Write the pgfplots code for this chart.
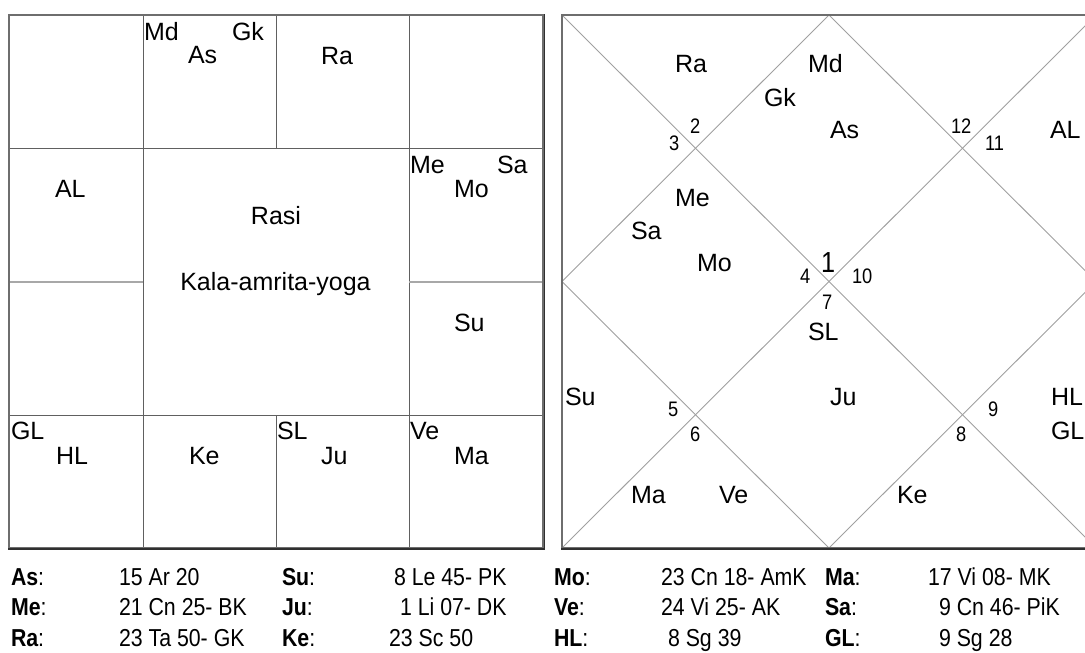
\documentclass[border=0pt]{standalone}
\usepackage{pgfplots}
\pgfplotsset{compat=1.18}
\usepackage{fontspec}
\setmainfont{Liberation Sans}
\newfontfamily\narrowfont[FakeStretch=0.87]{Liberation Sans}
\definecolor{frame}{HTML}{6E6E6E}
\definecolor{frameDark}{HTML}{303030}
\definecolor{grid}{HTML}{606060}
\definecolor{gridLight}{HTML}{A8A8A8}
\definecolor{diag}{HTML}{A0A0A0}
\tikzset{
  pl/.style={anchor=base west,inner sep=0pt,outer sep=0pt,font=\fontsize{25}{30}\selectfont},
  plc/.style={anchor=base,inner sep=0pt,outer sep=0pt,font=\fontsize{25}{30}\selectfont},
  num/.style={anchor=base west,inner sep=0pt,outer sep=0pt,font=\narrowfont\fontsize{21}{25}\selectfont},
  big/.style={anchor=base west,inner sep=0pt,outer sep=0pt,font=\narrowfont\fontsize{29}{33}\selectfont},
  tb/.style={anchor=base west,inner sep=0pt,outer sep=0pt,font=\narrowfont\fontsize{24.5}{29}\selectfont},
}
\begin{document}
\begin{tikzpicture}
\begin{axis}[
  width=1085pt,height=653pt,scale only axis,
  xmin=0,xmax=1085,ymin=0,ymax=653,y dir=reverse,
  axis lines=none,ticks=none,clip=true,
  axis background/.style={fill=white},
]
% background
\addplot[draw=none,fill=white] coordinates {(0,0) (1085,0) (1085,653) (0,653)} -- cycle;

% ---------- Left (South Indian) chart ----------
\addplot[draw=grid,line width=1pt] coordinates {(143,15) (143,548)};
\addplot[draw=grid,line width=1pt] coordinates {(409,15) (409,548)};
\addplot[draw=grid,line width=1pt] coordinates {(276,15) (276,148.5)};
\addplot[draw=grid,line width=1pt] coordinates {(276,415.5) (276,548)};
\addplot[draw=grid,line width=1pt] coordinates {(9,148.5) (543,148.5)};
\addplot[draw=grid,line width=1pt] coordinates {(9,415.5) (543,415.5)};
\addplot[draw=gridLight,line width=1.6pt] coordinates {(9,282) (143,282)};
\addplot[draw=gridLight,line width=1.6pt] coordinates {(409,282) (543,282)};
\addplot[draw=frame,line width=2.5pt] coordinates {(9,15) (543,15) (543,548) (9,548)} -- cycle;
\addplot[draw=frameDark,line width=1.2pt] coordinates {(8,549) (544.5,549)};
\addplot[draw=frameDark,line width=1pt] coordinates {(544.3,14) (544.3,549)};

% ---------- Right (North Indian) chart ----------
\addplot[draw=diag,line width=0.9pt] coordinates {(829,15) (1096,281.5) (829,548) (562,281.5)} -- cycle;
\addplot[draw=diag,line width=0.9pt] coordinates {(562,15) (1096,548)};
\addplot[draw=diag,line width=0.9pt] coordinates {(1096,15) (562,548)};
\addplot[draw=frame,line width=2.5pt] coordinates {(562,15) (1096,15) (1096,548) (562,548)} -- cycle;
\addplot[draw=frameDark,line width=1.2pt] coordinates {(561,549) (1097,549)};

% ---------- Left chart labels ----------
\node[pl] at (axis cs:144,40) {Md};
\node[pl] at (axis cs:232,40) {Gk};
\node[pl] at (axis cs:188,63.5) {As};
\node[pl] at (axis cs:321,64) {Ra};
\node[pl] at (axis cs:55,197) {AL};
\node[pl] at (axis cs:410,173) {Me};
\node[pl] at (axis cs:497,173) {Sa};
\node[pl] at (axis cs:454,197) {Mo};
\node[plc] at (axis cs:276,224) {Rasi};
\node[plc] at (axis cs:275.5,290) {Kala-amrita-yoga};
\node[pl] at (axis cs:454,331) {Su};
\node[pl] at (axis cs:11,439.5) {GL};
\node[pl] at (axis cs:56,464) {HL};
\node[pl] at (axis cs:189,464) {Ke};
\node[pl] at (axis cs:277,439.5) {SL};
\node[pl] at (axis cs:321,464) {Ju};
\node[pl] at (axis cs:410,439.5) {Ve};
\node[pl] at (axis cs:454,464) {Ma};

% ---------- Right chart labels ----------
\node[pl] at (axis cs:675,72.5) {Ra};
\node[pl] at (axis cs:808,72.5) {Md};
\node[pl] at (axis cs:764,106) {Gk};
\node[pl] at (axis cs:830,138.5) {As};
\node[pl] at (axis cs:1050,138.5) {AL};
\node[num] at (axis cs:690,133.5) {2};
\node[num] at (axis cs:669,150) {3};
\node[num] at (axis cs:951,133.5) {12};
\node[num] at (axis cs:985,150) {11};
\node[pl] at (axis cs:675,206.5) {Me};
\node[pl] at (axis cs:631,239.5) {Sa};
\node[pl] at (axis cs:697,271.5) {Mo};
\node[big] at (axis cs:821,272.5) {1};
\node[num] at (axis cs:800,283.5) {4};
\node[num] at (axis cs:852,283.5) {10};
\node[num] at (axis cs:822,309.5) {7};
\node[pl] at (axis cs:808,340) {SL};
\node[pl] at (axis cs:565,405) {Su};
\node[pl] at (axis cs:830,405) {Ju};
\node[pl] at (axis cs:1051,405) {HL};
\node[pl] at (axis cs:1051,439.5) {GL};
\node[num] at (axis cs:668,416.5) {5};
\node[num] at (axis cs:690,441.5) {6};
\node[num] at (axis cs:988,416.5) {9};
\node[num] at (axis cs:956,441.5) {8};
\node[pl] at (axis cs:631,503.5) {Ma};
\node[pl] at (axis cs:719,503.5) {Ve};
\node[pl] at (axis cs:897,503.5) {Ke};

% ---------- Table ----------
\node[tb] at (axis cs:11,585) {\bfseries As\mdseries:};
\node[tb] at (axis cs:119,585) {15 Ar 20};
\node[tb] at (axis cs:282,585) {\bfseries Su\mdseries:};
\node[tb] at (axis cs:394,585) {8 Le 45- PK};
\node[tb] at (axis cs:554,585) {\bfseries Mo\mdseries:};
\node[tb] at (axis cs:661,585) {23 Cn 18- AmK};
\node[tb] at (axis cs:825,585) {\bfseries Ma\mdseries:};
\node[tb] at (axis cs:928,585) {17 Vi 08- MK};

\node[tb] at (axis cs:11,615.5) {\bfseries Me\mdseries:};
\node[tb] at (axis cs:119,615.5) {21 Cn 25- BK};
\node[tb] at (axis cs:282,615.5) {\bfseries Ju\mdseries:};
\node[tb] at (axis cs:400,615.5) {1 Li 07- DK};
\node[tb] at (axis cs:554,615.5) {\bfseries Ve\mdseries:};
\node[tb] at (axis cs:661,615.5) {24 Vi 25- AK};
\node[tb] at (axis cs:825,615.5) {\bfseries Sa\mdseries:};
\node[tb] at (axis cs:939,615.5) {9 Cn 46- PiK};

\node[tb] at (axis cs:11,646) {\bfseries Ra\mdseries:};
\node[tb] at (axis cs:119,646) {23 Ta 50- GK};
\node[tb] at (axis cs:282,646) {\bfseries Ke\mdseries:};
\node[tb] at (axis cs:389,646) {23 Sc 50};
\node[tb] at (axis cs:554,646) {\bfseries HL\mdseries:};
\node[tb] at (axis cs:668,646) {8 Sg 39};
\node[tb] at (axis cs:825,646) {\bfseries GL\mdseries:};
\node[tb] at (axis cs:939,646) {9 Sg 28};
\end{axis}
\end{tikzpicture}
\end{document}
